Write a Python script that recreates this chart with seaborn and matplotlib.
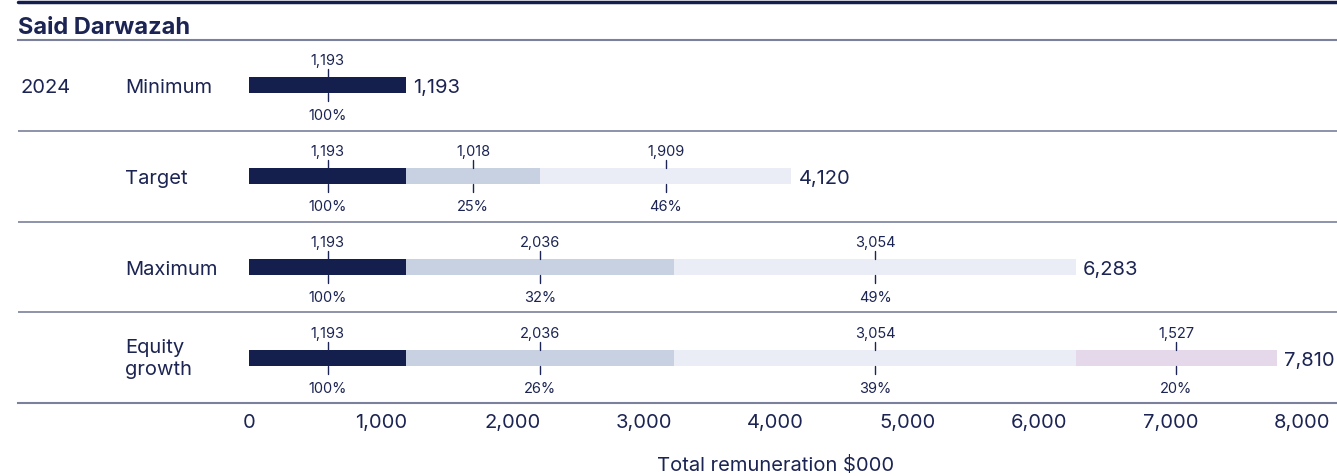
import pandas as pd
import matplotlib.pyplot as plt
import matplotlib.transforms as mtransforms
import seaborn as sns

sns.set_theme(style='white')
plt.rcParams['font.family'] = ['Inter', 'DejaVu Sans']

# data
person = 'Said Darwazah'
year = '2024'
scenarios = ['Minimum', 'Target', 'Maximum', 'Equity\ngrowth']
components = ['Fixed', 'Annual bonus', 'LTIP', 'Equity growth']
fixed = [1193, 1193, 1193, 1193]
bonus = [0, 1018, 2036, 2036]
ltip = [0, 1909, 3054, 3054]
equity = [0, 0, 0, 1527]
totals = [1193, 4120, 6283, 7810]
pct_fixed = ['100%', '100%', '100%', '100%']
pct_bonus = ['', '25%', '32%', '26%']
pct_ltip = ['', '46%', '49%', '39%']
pct_equity = ['', '', '', '20%']

colors = ['#141f4e', '#c8d1e1', '#eaedf5', '#e4d8ea']
text_c = '#1b2452'
line_c = '#7b809c'

df = pd.DataFrame({'scenario': scenarios, 'Fixed': fixed, 'Annual bonus': bonus,
                   'LTIP': ltip, 'Equity growth': equity})
starts = df[components].cumsum(axis=1) - df[components]
ends = df[components].cumsum(axis=1)
pcts = {'Fixed': pct_fixed, 'Annual bonus': pct_bonus, 'LTIP': pct_ltip,
        'Equity growth': pct_equity}

W, H = 1337, 477
fig = plt.figure(figsize=(W / 100, H / 100), dpi=100)
ax = fig.add_axes([18 / W, 1 - 404 / H, (W - 18) / W, (404 - 41) / H])

# px per unit: 0 at 249px, 8000 at 1302px
ppu = (1302 - 249) / 8000
ax.set_xlim(-(249 - 18) / ppu, 8000 + (1337 - 1302) / ppu)

row_px = 90.7
bar_w = 16 / row_px
# draw stacked bars back to front using cumulative ends
for comp, col in reversed(list(zip(components, colors))):
    sns.barplot(x=ends[comp], y=df['scenario'], color=col, width=bar_w,
                orient='h', ax=ax, saturation=1, linewidth=0)
ax.set_ylim(3.5, -0.5)

half = bar_w / 2
tick_len = 8 / row_px
small = dict(fontsize=10.5, color=text_c, fontweight='normal')
big = dict(fontsize=14.5, color=text_c, fontweight='normal')
for i in range(len(scenarios)):
    for comp in components:
        v = df[comp][i]
        if v <= 0:
            continue
        xc = starts[comp][i] + v / 2
        ax.plot([xc, xc], [i - half - tick_len, i - half], color=text_c, lw=1)
        ax.plot([xc, xc], [i + half, i + half + tick_len], color=text_c, lw=1)
        ax.text(xc, i - 21 / row_px, f'{v:,}', ha='center', va='baseline', **small)
        ax.text(xc, i + 34 / row_px, pcts[comp][i], ha='center', va='baseline',
                **small)
    ax.text(totals[i] + 55, i, f'{totals[i]:,}', ha='left', va='center_baseline',
            **big)

trans = mtransforms.blended_transform_factory(fig.transFigure, ax.transData)
ax.text(20 / W, 0, year, transform=trans, ha='left', va='center_baseline', **big)
for i, s in enumerate(scenarios):
    ax.text(125 / W, i, s, transform=trans, ha='left',
            va='center' if '\n' in s else 'center_baseline',
            linespacing=1.3, **big)

for yl in [0.5, 1.5, 2.5]:
    ax.axhline(yl, color=line_c, lw=1.2)

for side in ['left', 'right']:
    ax.spines[side].set_visible(False)
ax.spines['top'].set_color(line_c)
ax.spines['bottom'].set_color(line_c)
ax.spines['top'].set_linewidth(1.5)
ax.spines['bottom'].set_linewidth(1.5)

ax.set_yticks([])
ax.set_ylabel('')
ax.set_xticks(range(0, 8001, 1000))
ax.set_xticklabels([f'{t:,}' for t in range(0, 8001, 1000)], **big)
ax.tick_params(axis='x', length=0, pad=7)
ax.set_xlabel('Total remuneration $000', **big)
ax.xaxis.set_label_coords((776 - 18) / (W - 18), -0.142)

fig.add_artist(plt.Line2D([18 / W, 1], [1 - 3 / H, 1 - 3 / H], color='#141f4e',
                          lw=2.5, transform=fig.transFigure))
fig.text(18 / W, 1 - 28 / H, person, ha='left', va='center', fontsize=17,
         fontweight='bold', color=text_c)

fig.savefig('out.png', dpi=100)
